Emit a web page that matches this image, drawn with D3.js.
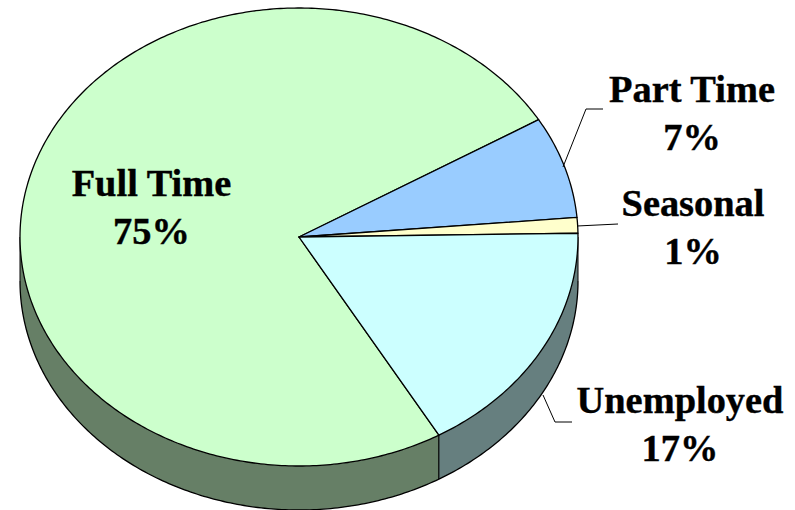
<!DOCTYPE html>
<html><head><meta charset="utf-8">
<script src="https://cdn.jsdelivr.net/npm/d3@7"></script>
<style>html,body{margin:0;padding:0;background:#fff;overflow:hidden}svg{display:block}</style>
</head><body><svg id="c" width="795" height="510"></svg>
<script>
const categories = ["Full Time","Part Time","Seasonal","Unemployed"];
const values = [74.8,7.2,1.1,16.9];
const percentLabels = ["75%","7%","1%","17%"];
const topColors = ["#ccffcc","#99ccff","#ffffcc","#ccffff"];
const sideColors = ["#667f66","#4c667f","#7f7f66","#667f7f"];

const W=795,H=510,cx=299,cy=237,rx=279,ry=229,depth=44;
const startDeg=149.9;
const svg=d3.select("#c");
const pie=d3.pie().sort(null).startAngle(startDeg*Math.PI/180).endAngle((startDeg+360)*Math.PI/180);
const arcs=pie(values);
const X=t=>cx+rx*Math.sin(t), Y=t=>cy-ry*Math.cos(t);
const area=d3.area().x(X).y0(Y).y1(t=>Y(t)+depth);
const line=d3.line().x(X).y(Y);

// side wall: the visible front half of each slice (angles between 90° and 270°)
const lo=Math.PI/2, hi=3*Math.PI/2;
arcs.forEach((a,i)=>{
  for(const k of [0,2*Math.PI]){
    const s=Math.max(a.startAngle-k,lo), e=Math.min(a.endAngle-k,hi);
    if(e<=s) continue;
    const n=Math.max(2,Math.ceil((e-s)*80));
    const ts=d3.range(n+1).map(j=>s+(e-s)*j/n);
    svg.append("path").attr("d",area(ts)).attr("fill",sideColors[i]).attr("stroke","none");
    svg.append("path").attr("d",d3.line().x(X).y(t=>Y(t)+depth)(ts)).attr("fill","none").attr("stroke","#000").attr("stroke-width",1.3);
    [s,e].forEach(t=>{
      svg.append("line").attr("x1",X(t)).attr("x2",X(t)).attr("y1",Y(t)).attr("y2",Y(t)+depth).attr("stroke","#000").attr("stroke-width",1);
    });
  }
});

// top face
arcs.forEach((a,i)=>{
  const n=Math.max(2,Math.ceil((a.endAngle-a.startAngle)*80));
  const ts=d3.range(n+1).map(j=>a.startAngle+(a.endAngle-a.startAngle)*j/n);
  const p=`M${cx},${cy}L`+line(ts).slice(1)+"Z";
  svg.append("path").attr("d",p).attr("fill",topColors[i]).attr("stroke","#000").attr("stroke-width",1.3).attr("stroke-linejoin","round");
});

// leader lines
const leaders=[
  null,
  [[563,167],[586,109],[603,109]],
  [[577,226],[618,224]],
  [[543,395],[555,422],[572,422]]
];
leaders.forEach(l=>{ if(l) svg.append("path").attr("d",d3.line()(l)).attr("fill","none").attr("stroke","#000").attr("stroke-width",1); });

// labels
const labelPos=[[151.5,196],[692,102],[693,216],[680,413]];
categories.forEach((c,i)=>{
  const [x,y]=labelPos[i];
  const t=svg.append("text").attr("text-anchor","middle").attr("font-family","'Liberation Serif','Times New Roman',serif").attr("font-weight","bold").attr("font-size",38.4).attr("fill","#000").attr("stroke","#000").attr("stroke-width",0.4);
  t.append("tspan").attr("x",x).attr("y",y).text(c);
  t.append("tspan").attr("x",x).attr("y",y+48).text(percentLabels[i]);
});
</script></body></html>
